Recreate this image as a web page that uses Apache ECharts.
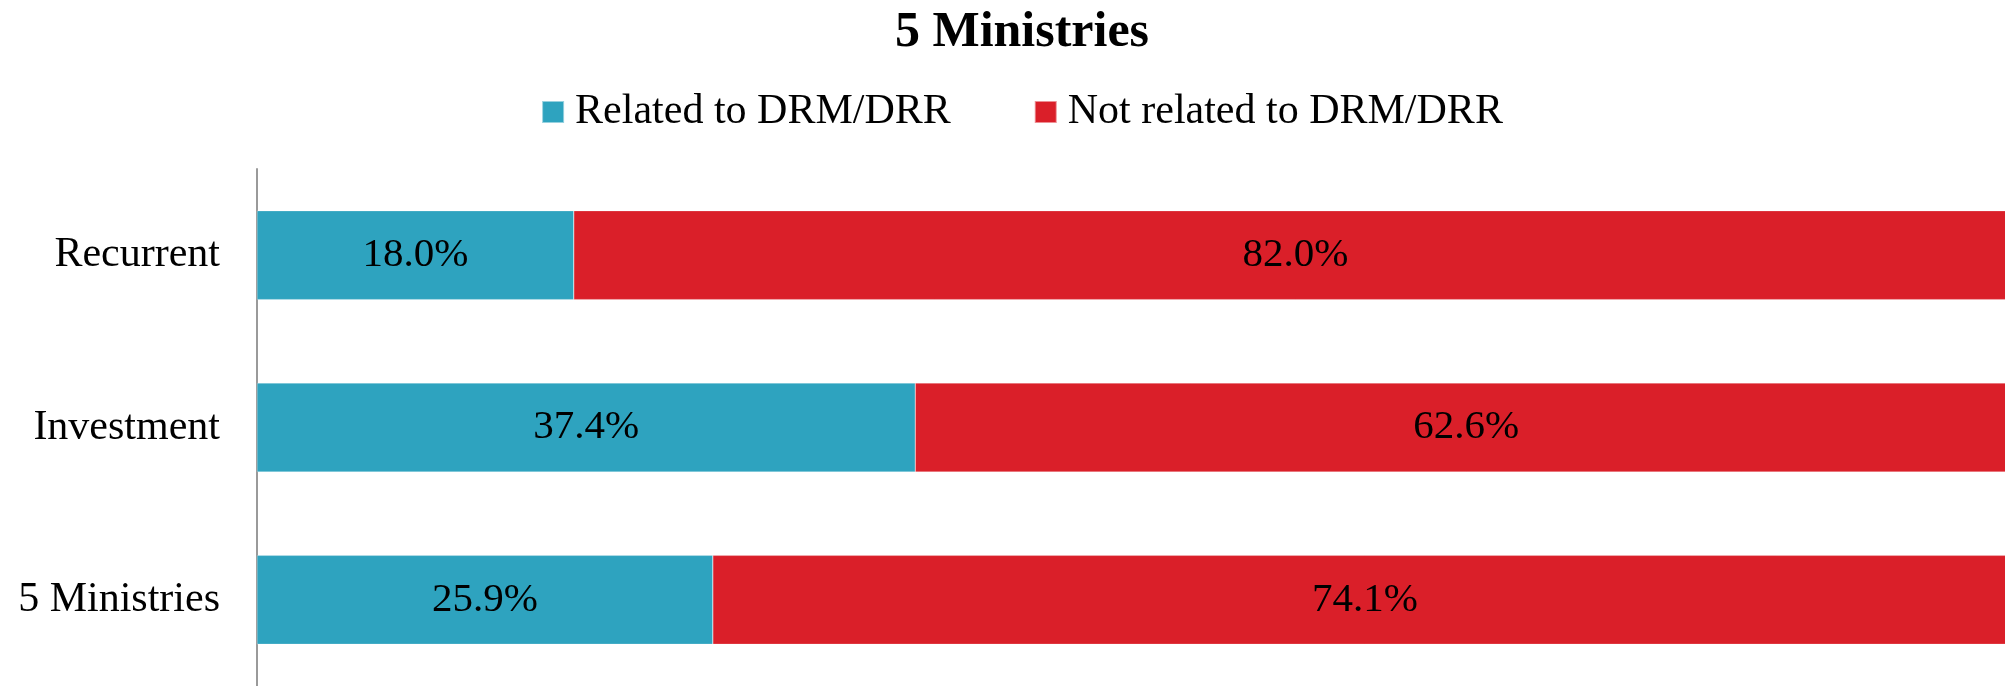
<!DOCTYPE html>
<html>
<head>
<meta charset="utf-8">
<script src="https://cdn.jsdelivr.net/npm/echarts@6/dist/echarts.min.js"></script>
<style>
html,body{margin:0;padding:0;overflow:hidden;background:#fff;width:2005px;height:686px;}
#chart{width:2044px;height:686px;}
</style>
</head>
<body>
<div id="chart"></div>
<script>
const categories = ['Recurrent', 'Investment', '5 Ministries'];
const relatedValues = [18.0, 37.4, 25.9];
const notRelatedValues = [82.0, 62.6, 74.1];
const seriesNames = ['Related to DRM/DRR', 'Not related to DRM/DRR'];
const chartTitle = '5 Ministries';

const FONT = '"Liberation Serif", "Times New Roman", serif';
const chart = echarts.init(document.getElementById('chart'), null, {renderer: 'canvas'});
const labelCfg = {
  show: true,
  position: 'inside',
  fontFamily: FONT,
  fontSize: 41,
  color: '#000',
  formatter: p => p.value.toFixed(1) + '%'
};
chart.setOption({
  backgroundColor: '#fff',
  animation: false,
  title: {
    text: chartTitle,
    left: 'center',
    top: 3,
    textStyle: {fontFamily: FONT, fontWeight: 'bold', fontSize: 50, color: '#000'}
  },
  legend: {
    top: 86,
    left: 'center',
    itemWidth: 22,
    itemHeight: 22,
    itemGap: 83,
    icon: 'rect',
    textStyle: {fontFamily: FONT, fontSize: 42, color: '#000', padding: [0, 0, 0, 6]},
    data: seriesNames
  },
  grid: {left: 257, right: 27, top: 169, height: 521, containLabel: false},
  xAxis: {
    type: 'value', min: 0, max: 100,
    show: false
  },
  yAxis: {
    type: 'category',
    data: categories,
    inverse: true,
    axisLine: {show: true, lineStyle: {color: '#9a9a9a', width: 2}},
    axisTick: {show: false},
    axisLabel: {fontFamily: FONT, fontSize: 42, color: '#000', margin: 37}
  },
  series: [
    {
      name: seriesNames[0], type: 'bar', stack: 'total', barWidth: 89,
      itemStyle: {color: '#2ea3bf', borderColor: 'rgba(255,255,255,0.5)', borderWidth: 0.5},
      label: labelCfg,
      data: relatedValues
    },
    {
      name: seriesNames[1], type: 'bar', stack: 'total', barWidth: 89,
      itemStyle: {color: '#da1f29', borderColor: 'rgba(255,255,255,0.5)', borderWidth: 0.5},
      label: labelCfg,
      data: notRelatedValues
    }
  ]
});
</script>
</body>
</html>
